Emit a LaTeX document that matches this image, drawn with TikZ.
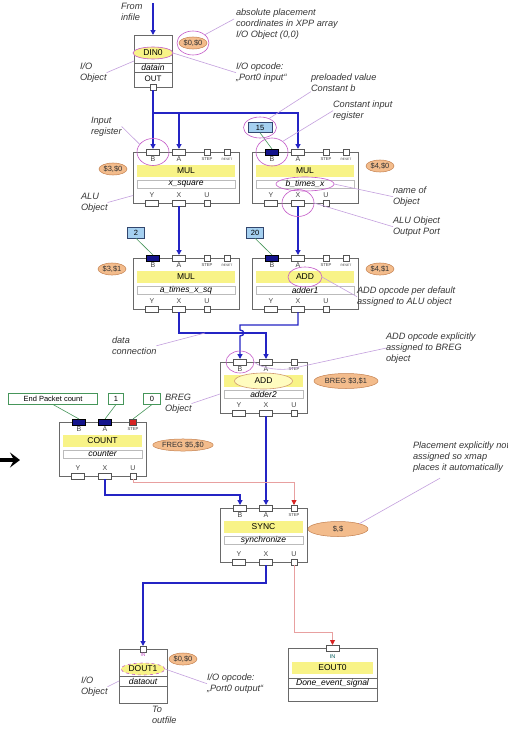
\documentclass[tikz,border=0pt]{standalone}
\usepackage{fontspec}
\setmainfont{Liberation Sans}
\usetikzlibrary{shapes.geometric,arrows.meta,calc}

\definecolor{boxgray}{RGB}{105,105,105}
\definecolor{opyellow}{RGB}{248,243,135}
\definecolor{posfill}{RGB}{243,188,140}
\definecolor{posdraw}{RGB}{196,128,78}
\definecolor{annpink}{RGB}{196,90,200}
\definecolor{annlinecol}{RGB}{196,160,222}
\definecolor{flowblue}{RGB}{36,36,196}
\definecolor{portblue}{RGB}{20,20,140}
\definecolor{evred}{RGB}{215,35,35}
\definecolor{evline}{RGB}{232,160,160}
\definecolor{constfill}{RGB}{165,208,240}
\definecolor{constdraw}{RGB}{50,70,110}
\definecolor{constgreen}{RGB}{70,150,90}
\definecolor{anntext}{RGB}{55,55,55}

\newcommand\annfont{\fontsize{9.2}{10.8}\selectfont\itshape}
\newcommand\opfont{\fontsize{8.5}{9}\selectfont}
\newcommand\nmfont{\fontsize{8.5}{8.5}\selectfont\itshape}

\tikzset{
  every node/.style={inner sep=0pt, outer sep=0pt},
  alubody/.style={draw=boxgray, line width=0.6pt, fill=white, anchor=north west},
  iobody/.style={draw=boxgray, line width=0.6pt, fill=white, anchor=north west},
  opband/.style={fill=opyellow, minimum height=12pt, font=\opfont},
  namerow/.style={draw=boxgray!45, fill=white, line width=0.4pt, minimum height=8.5pt, font=\nmfont},
  wport/.style={draw=boxgray!80!black, fill=white, line width=0.5pt, minimum width=13pt, minimum height=6pt},
  fport/.style={wport, fill=portblue, draw=black},
  sqport/.style={draw=boxgray!80!black, fill=white, line width=0.5pt, minimum width=5.5pt, minimum height=6pt},
  rport/.style={sqport, fill=evred, draw=black!70, minimum width=7pt},
  plabel/.style={font=\fontsize{7}{7}\selectfont, text=black!75},
  slabel/.style={font=\fontsize{4.2}{4.2}\selectfont, text=black!75},
  rlabel/.style={font=\fontsize{3.2}{3.2}\selectfont, text=black!75},
  posoval/.style={ellipse, draw=posdraw, fill=posfill, line width=0.5pt, inner xsep=0.5pt, inner ysep=1pt, minimum height=12pt, font=\fontsize{7.5}{7.5}\selectfont, text=black!80},
  anncircle/.style={ellipse, draw=annpink, line width=0.6pt},
  annline/.style={draw=annlinecol, line width=0.6pt},
  anntxt/.style={anchor=north west, align=left, font=\annfont, text=anntext},
  dataflow/.style={draw=flowblue, line width=1.4pt, -{Triangle[length=5pt,width=5pt]}},
  eventflow/.style={draw=evline, line width=0.9pt, -{Triangle[length=5pt,width=5pt,color=evred]}},
  constbox/.style={draw=constdraw, fill=constfill, line width=0.6pt, minimum height=10.5pt, font=\fontsize{7.5}{7.5}\selectfont},
  cntconst/.style={draw=constgreen, fill=white, line width=0.6pt, minimum height=11pt, font=\fontsize{7.5}{7.5}\selectfont},
  constlink/.style={draw=constgreen, line width=0.6pt},
}

% ALU object: name, left x, top y, width, opcode, object name, styles of ports B, A, STEP
\newcommand\aluh{51}
\newcommand\alubox[9]{%
  \node[alubody, minimum width=#4, minimum height=\aluh] (#1) at (#2,#3) {};
  \node[opband, minimum width={#4-8}] (#1-op) at ({#2+#4/2},{#3+19}) {#5};
  \node[namerow, minimum width={#4-8}] (#1-nm) at ({#2+#4/2},{#3+32}) {#6};
  \node[#7] (#1-B) at ({#2+20},#3) {};
  \node[#8] (#1-A) at ({#2+46},#3) {};
  \node[#9] (#1-STEP) at ({#2+74},#3) {};
  \node[wport] (#1-Y) at ({#2+19},{#3+\aluh}) {};
  \node[wport] (#1-X) at ({#2+46},{#3+\aluh}) {};
  \node[sqport] (#1-U) at ({#2+74},{#3+\aluh}) {};
  \node[plabel] (#1-lB) at ({#2+20},{#3+7.5}) {B};
  \node[plabel] (#1-lA) at ({#2+46},{#3+7.5}) {A};
  \node[slabel] (#1-lS) at ({#2+74},{#3+7.5}) {STEP};
  \node[plabel] (#1-lY) at ({#2+19},{#3+\aluh-7.5}) {Y};
  \node[plabel] (#1-lX) at ({#2+46},{#3+\aluh-7.5}) {X};
  \node[plabel] (#1-lU) at ({#2+74},{#3+\aluh-7.5}) {U};
}
\newcommand\resetport[3]{%
  \node[sqport] (#1-RESET) at ({#2+94},#3) {};
  \node[rlabel] (#1-lR) at ({#2+94},{#3+7.5}) {RESET};
}

\begin{document}
\begin{tikzpicture}[x=1pt,y=-1pt]
\fill[white] (0,0) rectangle (507,731);
\useasboundingbox (0,0) rectangle (507,731);

% ---------- input object DIN0
\node[iobody, minimum width=38, minimum height=52] (din) at (134,35) {};
\node[ellipse, draw=annpink, fill=opyellow, line width=0.6pt, minimum width=40, minimum height=12, font=\opfont] (din-op) at (153,53) {DIN0};
\node[draw=boxgray, line width=0.5pt, minimum width=38, minimum height=9.5, font=\nmfont] (din-nm) at (153,67.75) {datain};
\node[font=\fontsize{8}{8}\selectfont] (din-lO) at (153,79) {OUT};
\node[sqport] (din-OUT) at (153,87) {};
\coordinate (infile) at (153,3);
\node[anntxt] (t-from) at (121,3) {From\\infile};
\draw[dataflow] (infile) -- (din.north);

\node[posoval] (p-din) at (193,43) {\$0,\$0};
\node[anncircle, minimum width=32, minimum height=24] (a1) at (p-din) {};
\node[anntxt] (t-abs) at (236,9) {absolute placement\\coordinates in XPP array\\I/O Object (0,0)};
\node[anntxt] (t-io1) at (236,63) {I/O opcode:\\„Port0 input“};
\node[anntxt] (t-io2) at (80,63) {I/O\\Object};

% ---------- first ALU row
\alubox{mul1}{133}{152}{106}{MUL}{x\_square}{wport}{wport}{sqport}
\resetport{mul1}{133}{152}
\alubox{mul1r}{252}{152}{106}{MUL}{b\_times\_x}{fport}{wport}{sqport}
\resetport{mul1r}{252}{152}
\node[posoval] (p-mul1) at (113,169) {\$3,\$0};
\node[posoval] (p-mul1r) at (380,166) {\$4,\$0};
\node[constbox, minimum width=24] (k15) at (260,127.5) {15};

% ---------- second ALU row
\alubox{mul2}{133}{258}{106}{MUL}{a\_times\_x\_sq}{fport}{wport}{sqport}
\resetport{mul2}{133}{258}
\alubox{add1}{252}{258}{106}{ADD}{adder1}{fport}{wport}{sqport}
\resetport{add1}{252}{258}
\node[posoval] (p-mul2) at (112,269) {\$3,\$1};
\node[posoval] (p-add1) at (380,269) {\$4,\$1};
\node[constbox, minimum width=17] (k2) at (136,233) {2};
\node[constbox, minimum width=17] (k20) at (255,233) {20};

% ---------- BREG adder
\alubox{add2}{220}{362}{87}{}{adder2}{wport}{wport}{sqport}
\node[ellipse, draw=posdraw!80, fill=yellow!25, line width=0.6pt, minimum width=58, minimum height=16, font=\opfont] (add2-ell) at (add2-op) {ADD};
\node[posoval, minimum width=64, minimum height=15] (p-add2) at (346,381) {BREG \$3,\$1};

% ---------- counter
\renewcommand\aluh{54}
\alubox{count}{59}{422}{87}{COUNT}{counter}{fport}{fport}{rport}
\node[posoval, minimum width=60] (p-count) at (183,445) {FREG \$5,\$0};
\node[cntconst, minimum width=89] (kend) at (53,399) {End Packet count};
\node[cntconst, minimum width=15] (k1) at (116,399) {1};
\node[cntconst, minimum width=17] (k0) at (152,399) {0};

% ---------- synchronizer
\alubox{sync}{220}{508}{87}{SYNC}{synchronize}{wport}{wport}{sqport}
\node[posoval, minimum width=60, minimum height=15] (p-sync) at (338,529) {\$,\$};

% ---------- output objects
\node[iobody, minimum width=48, minimum height=54] (dout) at (119,649) {};
\node[sqport] (dout-IN) at (143,649) {};
\node[font=\fontsize{5}{5}\selectfont, text=annpink] (dout-lI) at (143,655) {IN};
\node[ellipse, draw=annpink, dashed, fill=opyellow, line width=0.6pt, minimum width=44, minimum height=12, font=\opfont] (dout-op) at (143,669) {DOUT1};
\node[draw=boxgray, line width=0.5pt, minimum width=48, minimum height=10, font=\nmfont] (dout-nm) at (143,681) {dataout};
\node[posoval] (p-dout) at (183,659) {\$0,\$0};

\node[iobody, minimum width=89, minimum height=53] (eout) at (288,648) {};
\node[wport] (eout-IN) at (332.5,648) {};
\node[font=\fontsize{5.5}{5.5}\selectfont, text=teal!70!black] (eout-lI) at (332.5,656.5) {IN};
\node[opband, minimum width=81] (eout-op) at (332.5,667.5) {EOUT0};
\node[draw=boxgray, line width=0.5pt, minimum width=89, minimum height=10, font=\nmfont] (eout-nm) at (332.5,683.5) {Done\_event\_signal};

% ---------- data and event connections
\draw[dataflow] (din-OUT.south) -- (mul1-B.north);
\coordinate (split) at (153,113);
\draw[dataflow] (split) -| (mul1-A.north);
\draw[dataflow] (split) -| (mul1r-A.north);
\draw[dataflow] (mul1-X.south) -- (mul2-A.north);
\draw[dataflow] (mul1r-X.south) -- (add1-A.north);
\coordinate (j1) at (240,325);
\coordinate (j2) at (179,333);
\draw[dataflow] (mul2-X.south) -- (j2) -| (add2-A.north);
\draw[dataflow] (add1-X.south) |- (j1) -- (240,330) .. controls (245,330) and (245,336) .. (240,336) -- (add2-B.north);
\draw[dataflow] (add2-X.south) -- (sync-A.north);
\coordinate (j3) at (105,495);
\draw[dataflow] (count-X.south) -- (j3) -| (sync-B.north);
\draw[eventflow] (count-U.south) -- ++(0,3) -| (sync-STEP.north);
\draw[dataflow] (sync-X.south) -- ++(0,18) -| (dout-IN.north);
\draw[eventflow] (sync-U.south) -- ++(0,67) -| (eout-IN.north);

% constant inputs
\draw[constlink] (k15.south) -- (mul1r-B.north);
\draw[constlink] (k2.south) -- (mul2-B.north);
\draw[constlink] (k20.south) -- (add1-B.north);
\draw[constlink] (kend.south) -- (count-B.north);
\draw[constlink] (k1.south) -- (count-A.north);
\draw[constlink] (k0.south) -- (count-STEP.north);

% ---------- annotation marks
\node[anncircle, minimum width=32, minimum height=27] (a2) at (mul1-B) {};
\node[anncircle, minimum width=33, minimum height=21] (a3) at (k15) {};
\node[anncircle, minimum width=32, minimum height=28] (a4) at (mul1r-B) {};
\node[anncircle, minimum width=58, minimum height=14] (a5) at (mul1r-nm) {};
\node[anncircle, minimum width=32, minimum height=27] (a6) at (mul1r-X) {};
\node[anncircle, minimum width=34, minimum height=20] (a7) at (add1-op) {};
\node[anncircle, minimum width=28, minimum height=22] (a8) at (add2-B) {};

\node[anntxt] (t-pre) at (311,74) {preloaded value\\Constant b};
\node[anntxt] (t-cir) at (333,101) {Constant input\\register};
\node[anntxt] (t-inreg) at (91,117) {Input\\register};
\node[anntxt] (t-alu) at (81,193) {ALU\\Object};
\node[anntxt] (t-name) at (393,187) {name of\\Object};
\node[anntxt] (t-outp) at (393,217) {ALU Object\\Output Port};
\node[anntxt] (t-adddef) at (357,287) {ADD opcode per default\\assigned to ALU object};
\node[anntxt] (t-data) at (112,337) {data\\connection};
\node[anntxt] (t-addexp) at (386,333) {ADD opcode explicitly\\assigned to BREG\\object};
\node[anntxt] (t-breg) at (165,394) {BREG\\Object};
\node[anntxt] (t-place) at (413,442) {Placement explicitly not\\assigned so xmap\\places it automatically};
\node[anntxt] (t-io3) at (207,674) {I/O opcode:\\„Port0 output“};
\node[anntxt] (t-io4) at (81,677) {I/O\\Object};
\node[anntxt] (t-out) at (152,706) {To\\outfile};

\draw[annline] (a1.35) -- ($(t-abs.north west)+(-2,10)$);
\draw[annline] (din-op.east) -- (t-io1.west);
\draw[annline] (t-io2.east) -- (din.west);
\draw[annline] (t-inreg.east) -- (a2.150);
\draw[annline] (t-alu.east) -- (mul1.west |- mul1-lY);
\draw[annline] (a3.45) -- (t-pre.south west);
\draw[annline] (a4.45) -- (t-cir.west);
\draw[annline] (a5.east) -- (t-name.west);
\draw[annline] (a6.east) -- (t-outp.west);
\draw[annline] (a7.east) -- (t-adddef.west);
\coordinate (dc) at (205,333);
\draw[annline] (t-data.east) -- (dc);
\draw[annline] (t-addexp.west) -- (add2-lS.north) .. controls (282,371) and (262,369) .. (a8.east);
\draw[annline] (t-breg.east) -- (add2.west |- add2-nm);
\draw[annline] (p-sync.north east) -- ($(t-place.south west)+(27,6)$);
\draw[annline] (dout-op.east) -- (t-io3.west);
\draw[annline] (t-io4.east) -- (dout.west |- dout-nm);

% ---------- heavy pointer at the counter
\coordinate (bigtail) at (0,460);
\coordinate (bighead) at (20,460);
\draw[line width=3.5pt, -{Stealth[length=10pt,width=15pt,inset=4pt]}] (bigtail) -- (bighead);
\end{tikzpicture}
\end{document}
